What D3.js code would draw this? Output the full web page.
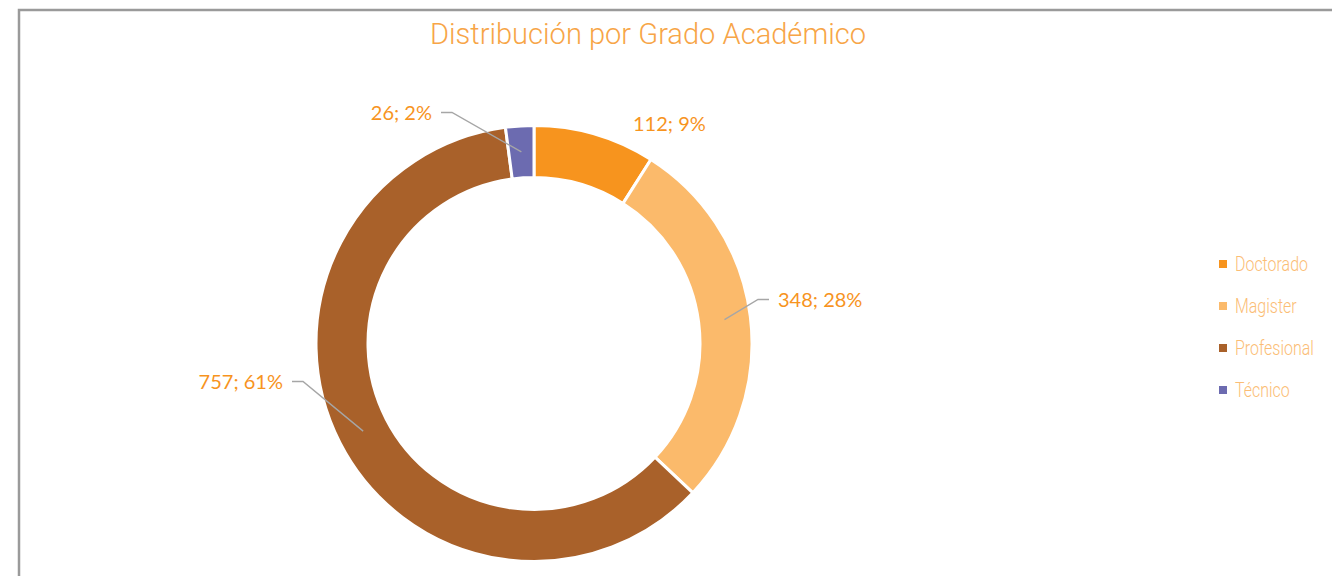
<!DOCTYPE html>
<html>
<head>
<meta charset="utf-8">
<script src="https://cdn.jsdelivr.net/npm/d3@7"></script>
<style>
  body { margin: 0; background: #fff; }
  svg { display: block; }
</style>
</head>
<body>
<div id="chart"></div>
<script>
const categories = ['Doctorado', 'Magister', 'Profesional', 'Técnico'];
const counts = [112, 348, 757, 26];
const percents = ['9%', '28%', '61%', '2%'];
const colors = ['#F7941E', '#FBBA6B', '#A9612A', '#6C6BB0'];

const config = {
    WIDTH: 1332,
    HEIGHT: 576,
    CX: 534,
    CY: 343.5,
    OUTER: 218,
    INNER: 166,
    NARROW: 'Roboto, "DejaVu Sans Condensed", sans-serif',
}

// label anchors, relative to the donut centre (Excel placed them by hand)
// [x, y, anchor, hasLeader]
const labelLayout = [
    [99, -213, 'start', false],
    [244, -37, 'start', true],
    [-251, 45, 'end', true],
    [-102, -224, 'end', true],
];

const svg = d3.select('#chart')
    .append('svg')
    .attr('width', config.WIDTH)
    .attr('height', config.HEIGHT);

// chart frame
svg.append('path')
    .attr('d', 'M19,577 V10 H1340')
    .attr('fill', 'none')
    .attr('stroke', '#9a9a9a')
    .attr('stroke-width', 2.5);

svg.append('text')
    .attr('x', 430)
    .attr('y', 44)
    .attr('textLength', 436)
    .attr('lengthAdjust', 'spacingAndGlyphs')
    .attr('fill', '#F7A547')
    .style('font-family', config.NARROW)
    .style('font-weight', 300)
    .style('font-size', '30px')
    .text('Distribución por Grado Académico');

const pie = d3.pie().sort(null).value(d => d);
const arcs = pie(counts);

const arc = d3.arc()
    .innerRadius(config.INNER)
    .outerRadius(config.OUTER);

const g = svg.append('g')
    .attr('transform', `translate(${config.CX}, ${config.CY})`);

g.selectAll('path.slice')
    .data(arcs)
    .join('path')
    .attr('class', 'slice')
    .attr('d', arc)
    .attr('fill', (d, i) => colors[i])
    .attr('stroke', '#fff')
    .attr('stroke-width', 3);

// leader lines go from the label to the middle of the ring
arcs.forEach((d, i) => {
    const [lx, ly, anchor, leader] = labelLayout[i];
    if (leader) {
        const c = arc.centroid(d);
        const dir = anchor === 'start' ? -1 : 1;
        const ey = ly - 7;
        g.append('polyline')
            .attr('points', `${lx + dir * 9},${ey} ${lx + dir * 20},${ey} ${c[0]},${c[1]}`)
            .attr('fill', 'none')
            .attr('stroke', '#a6a6a6')
            .attr('stroke-width', 1.4);
    }
    g.append('text')
        .attr('x', lx)
        .attr('y', ly)
        .attr('text-anchor', anchor)
        .attr('fill', '#F7941E')
        .style('font-family', 'Lato, "Open Sans", sans-serif')
        .style('font-size', '20px')
        .text(`${counts[i]}; ${percents[i]}`);
});

// legend
const legend = svg.append('g')
    .attr('transform', 'translate(1219, 264)');

const item = legend.selectAll('g')
    .data(categories)
    .join('g')
    .attr('transform', (d, i) => `translate(0, ${i * 42})`);

item.append('rect')
    .attr('x', 0)
    .attr('y', -4)
    .attr('width', 8)
    .attr('height', 8)
    .attr('fill', (d, i) => colors[i]);

item.append('text')
    .attr('transform', 'translate(16, 7) scale(0.76, 1)')
    .attr('fill', '#FBBD75')
    .style('font-family', config.NARROW)
    .style('font-weight', 300)
    .style('font-size', '21px')
    .text(d => d);
</script>
</body>
</html>
